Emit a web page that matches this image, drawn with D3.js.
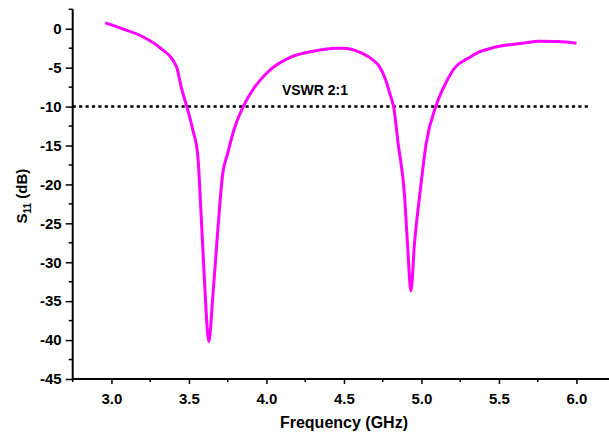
<!DOCTYPE html>
<html><head><meta charset="utf-8">
<script src="https://cdn.jsdelivr.net/npm/d3@7"></script>
<style>body{margin:0;background:#fff}svg{display:block}text{font-family:"Liberation Sans",Arial,sans-serif;font-weight:bold;fill:#000}</style>
</head><body>
<script>
const freq = [2.96,3.07,3.2,3.31,3.42,3.45,3.486,3.525,3.557,3.578,3.6,3.628,3.654,3.686,3.718,3.75,3.79,3.85,3.91,4.02,4.15,4.3,4.45,4.5,4.6,4.68,4.73,4.77,4.8,4.82,4.85,4.89,4.91,4.932,4.955,4.99,5.03,5.095,5.16,5.22,5.3,5.37,5.45,5.55,5.65,5.76,5.88,6.0];
const s11 = [0.75,0.0,-1.0,-2.4,-4.9,-7.5,-10.0,-13.0,-16.3,-23.7,-32.3,-40.2,-34.4,-25.9,-18.6,-16.0,-13.0,-10.0,-7.9,-5.35,-3.7,-2.9,-2.5,-2.5,-3.0,-3.9,-4.9,-6.6,-8.6,-10.0,-14.8,-21.2,-27.6,-33.7,-27.6,-21.2,-14.8,-9.85,-6.85,-4.9,-3.8,-3.0,-2.5,-2.1,-1.85,-1.6,-1.65,-1.85];
const refX = [2.75, 6.08];
const refY = [-10, -10];
const refLabel = "VSWR 2:1";
const refLabelPos = [4.1, -8.5];
const xTicks = [3.0,3.5,4.0,4.5,5.0,5.5,6.0];
const yTicks = [0,-5,-10,-15,-20,-25,-30,-35,-40,-45];

const W=609,H=434;
const svg=d3.select("body").append("svg").attr("width",W).attr("height",H);
const x=d3.scaleLinear().domain([2.75,6.25]).range([72.7,615.2]);
const y=d3.scaleLinear().domain([-45,2.5]).range([379,9.3]);

const xMinor=d3.range(2.75,6.26,0.25).filter(v=>!xTicks.some(t=>Math.abs(t-v)<1e-6));
const yMinor=d3.range(-42.5,2.6,5);
const gx=svg.append("g").attr("transform",`translate(0,${y(-45)})`);
gx.call(d3.axisBottom(x).tickValues(xTicks).tickFormat(d3.format(".1f")).tickSize(5).tickPadding(9));
gx.call(g=>g.selectAll(".minor").data(xMinor).join("line").attr("class","minor").attr("x1",d=>x(d)).attr("x2",d=>x(d)).attr("y1",0).attr("y2",3).attr("stroke","#000").attr("stroke-width",1.5));
const gy=svg.append("g").attr("transform",`translate(${x(2.75)},0)`);
gy.call(d3.axisLeft(y).tickValues(yTicks).tickFormat(d=>String(d)).tickSize(7).tickPadding(4));
gy.call(g=>g.selectAll(".minor").data(yMinor).join("line").attr("class","minor").attr("y1",d=>y(d)).attr("y2",d=>y(d)).attr("x1",0).attr("x2",-4).attr("stroke","#000").attr("stroke-width",1.5));
[gx,gy].forEach(g=>{
  g.select(".domain").attr("stroke","#000").attr("stroke-width",2).attr("d", g===gx?`M${x(2.75)},0H${W}`:`M0,${y(2.5)}V${y(-45)}`);
  g.selectAll(".tick line").attr("stroke","#000").attr("stroke-width",1.5);
  g.selectAll(".tick text").style("font-size","15px").style("font-family","'Liberation Sans',Arial,sans-serif").style("font-weight","bold").attr("fill","#000");
});

svg.append("line").attr("x1",x(refX[0])).attr("x2",x(refX[1])).attr("y1",y(refY[0])).attr("y2",y(refY[1]))
  .attr("stroke","#000").attr("stroke-width",2.5).attr("stroke-dasharray","3.2,3.2");
svg.append("text").attr("x",x(refLabelPos[0])).attr("y",y(refLabelPos[1])).style("font-size","14px").text(refLabel);

const line=d3.line().x((d,i)=>x(freq[i])).y(d=>y(d)).curve(d3.curveMonotoneX);
svg.append("path").attr("d",line(s11)).attr("fill","none").attr("stroke","#ff00ff").attr("stroke-width",3).attr("stroke-linejoin","round");

svg.append("text").attr("x",x(4.5)).attr("y",428).attr("text-anchor","middle").style("font-size","16px").text("Frequency (GHz)");
const yl=svg.append("text").attr("transform",`translate(27,${y(-21.5)}) rotate(-90)`).attr("text-anchor","middle").style("font-size","15px");
yl.append("tspan").text("S");
yl.append("tspan").attr("dy",4).style("font-size","10px").text("11");
yl.append("tspan").attr("dy",-4).text(" (dB)");
</script>
</body></html>
